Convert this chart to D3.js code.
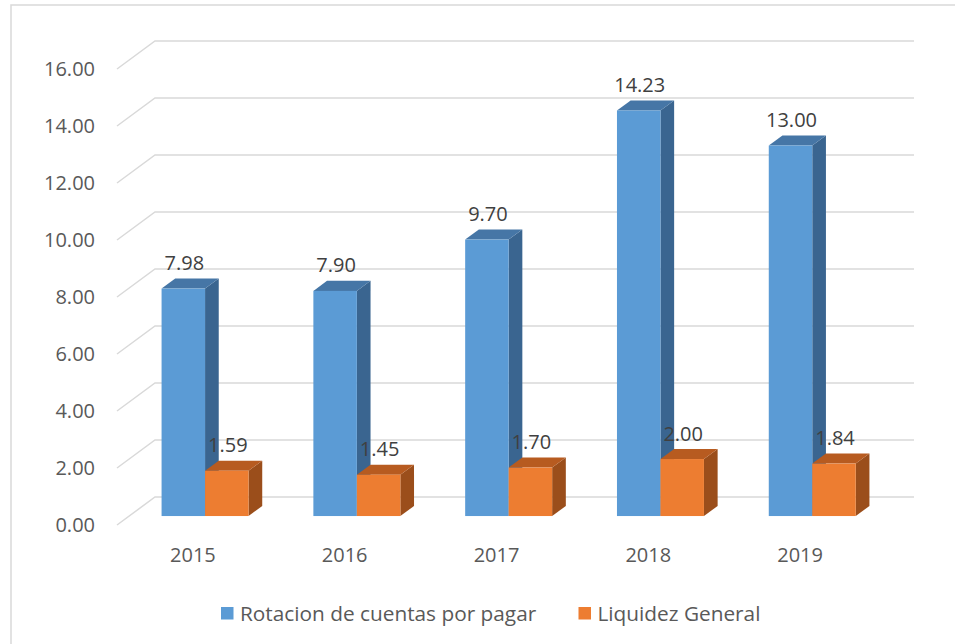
<!DOCTYPE html>
<html>
<head>
<meta charset="utf-8">
<script src="https://cdn.jsdelivr.net/npm/d3@7"></script>
<style>
  body { margin: 0; background: #fff; }
  text { font-family: "Open Sans", sans-serif; }
</style>
</head>
<body>
<div id="chart"></div>
<script>
// data
var years = ["2015", "2016", "2017", "2018", "2019"];
var rotacion = [7.98, 7.90, 9.70, 14.23, 13.00];
var liquidez = [1.59, 1.45, 1.70, 2.00, 1.84];
var seriesNames = ["Rotacion de cuentas por pagar", "Liquidez General"];
var yTicks = [0, 2, 4, 6, 8, 10, 12, 14, 16];

var W = 955, H = 644;

// colors for each face: front, top, side
var faces = {
  "Rotacion de cuentas por pagar": { front: "#5b9bd5", top: "#4676a6", side: "#3a6590" },
  "Liquidez General": { front: "#ed7d31", top: "#b75b20", side: "#9b4e1b" }
};

var svg = d3.select("#chart").append("svg")
  .attr("width", W).attr("height", H);

// frame (only left and top are visible in the picture)
svg.append("path")
  .attr("d", "M11,644 L11,5 L955,5")
  .attr("fill", "none").attr("stroke", "#d9d9d9").attr("stroke-width", 1.5);

// back wall coordinates, the depth goes toward lower left
var depthX = -38, depthY = 28;
var x0 = d3.scaleBand().domain(years).range([155, 914]).paddingInner(0.427).paddingOuter(0.2135);
var x1 = d3.scaleBand().domain(seriesNames).range([0, x0.bandwidth()]);
var y = d3.scaleLinear().domain([0, 16]).range([497, 41]);

function px(xw, d) { return xw + depthX * d; }
function py(v, d) { return y(v) + depthY * d; }

// gridlines on the back wall plus the diagonal on the side
var grid = svg.append("g");
yTicks.forEach(function(t) {
  grid.append("path")
    .attr("d", "M" + px(155, 1) + "," + py(t, 1) + " L155," + y(t) + " L914," + y(t))
    .attr("fill", "none").attr("stroke", "#d9d9d9").attr("stroke-width", 1.5);
});

// y tick labels
svg.append("g").selectAll("text")
  .data(yTicks).enter().append("text")
  .attr("x", 95).attr("y", function(d) { return py(d, 1); })
  .attr("dy", "0.35em")
  .attr("text-anchor", "end")
  .attr("font-size", 20).attr("fill", "#595959")
  .text(function(d) { return d.toFixed(2); });

// category labels, centered on the front edge of the floor
svg.append("g").selectAll("text")
  .data(years).enter().append("text")
  .attr("x", function(d) { return px(x0(d) + x0.bandwidth() / 2, 1); })
  .attr("y", 562)
  .attr("text-anchor", "middle")
  .attr("font-size", 20).attr("fill", "#595959")
  .text(function(d) { return d; });

// bars: front face at depth 0.68, back at 0.32
var dFront = 0.68, dBack = 0.32;
var rows = [];
years.forEach(function(yr, i) {
  rows.push({ year: yr, name: seriesNames[0], value: rotacion[i] });
  rows.push({ year: yr, name: seriesNames[1], value: liquidez[i] });
});

var bars = svg.append("g");
rows.forEach(function(r) {
  var xl = x0(r.year) + x1(r.name);
  var xr = xl + x1.bandwidth();
  var c = faces[r.name];
  var g = bars.append("g");
  // side face
  g.append("path")
    .attr("d", "M" + px(xr, dFront) + "," + py(0, dFront) +
      " L" + px(xr, dFront) + "," + py(r.value, dFront) +
      " L" + px(xr, dBack) + "," + py(r.value, dBack) +
      " L" + px(xr, dBack) + "," + py(0, dBack) + "Z")
    .attr("fill", c.side);
  // top face
  g.append("path")
    .attr("d", "M" + px(xl, dFront) + "," + py(r.value, dFront) +
      " L" + px(xr, dFront) + "," + py(r.value, dFront) +
      " L" + px(xr, dBack) + "," + py(r.value, dBack) +
      " L" + px(xl, dBack) + "," + py(r.value, dBack) + "Z")
    .attr("fill", c.top);
  // front face
  g.append("rect")
    .attr("x", px(xl, dFront))
    .attr("y", py(r.value, dFront))
    .attr("width", xr - xl)
    .attr("height", py(0, dFront) - py(r.value, dFront))
    .attr("fill", c.front);
});

// data labels
svg.append("g").selectAll("text")
  .data(rows).enter().append("text")
  .attr("x", function(d) { return px(x0(d.year) + x1(d.name) + x1.bandwidth() / 2, dFront) + 1; })
  .attr("y", function(d) { return py(d.value, dFront) - 18.5; })
  .attr("text-anchor", "middle")
  .attr("font-size", 20).attr("fill", "#404040")
  .text(function(d) { return d.value.toFixed(2); });

// legend
var legendX = [221, 578.5];
var legend = svg.append("g");
seriesNames.forEach(function(n, i) {
  legend.append("rect")
    .attr("x", legendX[i]).attr("y", 607)
    .attr("width", 12.5).attr("height", 12.5)
    .attr("fill", faces[n].front);
  legend.append("text")
    .attr("x", legendX[i] + 19).attr("y", 620.5)
    .attr("font-size", 20.8).attr("fill", "#595959")
    .text(n);
});
</script>
</body>
</html>
